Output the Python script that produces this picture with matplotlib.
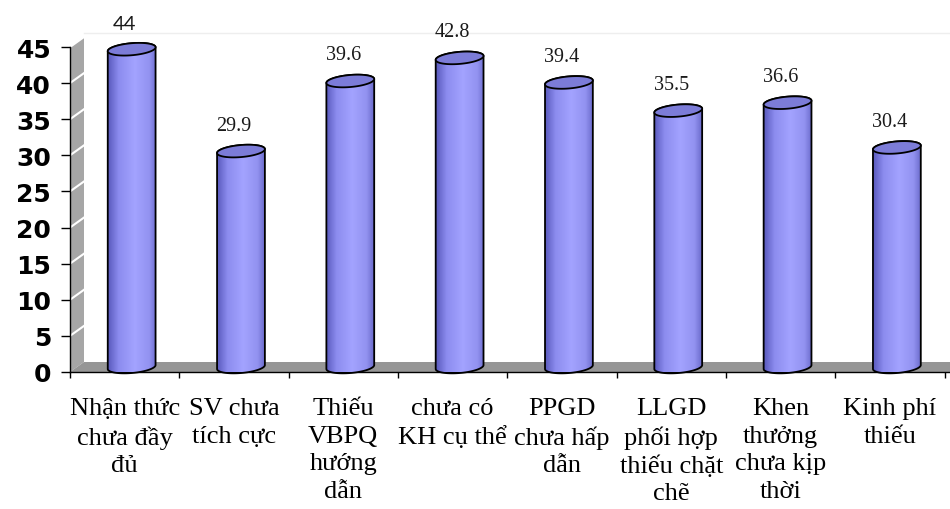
import matplotlib
matplotlib.use("Agg")
import matplotlib.pyplot as plt
import numpy as np
from matplotlib.patches import Polygon
from matplotlib.colors import LinearSegmentedColormap

# data
categories = ["Nhận thức\nchưa đầy\nđủ", "SV chưa\ntích cực", "Thiếu\nVBPQ\nhướng\ndẫn",
              "chưa có\nKH cụ thể", "PPGD\nchưa hấp\ndẫn", "LLGD\nphối hợp\nthiếu chặt\nchẽ",
              "Khen\nthưởng\nchưa kịp\nthời", "Kinh phí\nthiếu"]
values = [44, 29.9, 39.6, 42.8, 39.4, 35.5, 36.6, 30.4]
yticks = list(range(0, 50, 5))

W, H = 950, 510
fig = plt.figure(figsize=(W / 100, H / 100), dpi=100)
ax = fig.add_axes([70 / W, 137 / H, 880 / W, 363 / H])

XMAX = 8.05
sx = 880 / XMAX          # px per category
sy = 325 / 45            # px per unit
YMAX = 363 / sy
ax.set_xlim(0, XMAX)
ax.set_ylim(0, YMAX)

# 3d depth offset
DX = 14 / sx
DY = 10 / sy

# side wall + floor
ax.add_patch(Polygon([(0, 0), (0, 45), (DX, 45 + DY), (DX, DY)],
                     fc="#a6a6a6", ec="none", zorder=1))
ax.add_patch(Polygon([(0, 0), (XMAX, 0), (XMAX + DX, DY), (DX, DY)],
                     fc="#969696", ec="none", zorder=1, clip_on=False))
for v in yticks[1:]:
    ax.plot([0, DX], [v, v + DY], color="white", lw=1.5, zorder=1.5)
ax.plot([DX, XMAX + DX], [45 + DY + 0.6, 45 + DY + 0.6], color="#eeeeee", lw=1,
        zorder=0.5, clip_on=False)

# cylinders
cmap = LinearSegmentedColormap.from_list(
    "cyl", [(0, "#5a5abd"), (0.22, "#8c8cef"), (0.55, "#a3a3ff"),
            (0.85, "#9292f0"), (1, "#6b6bcc")])
grad = np.linspace(0, 1, 200).reshape(1, -1)
a, b, th = 24.0, 6.0, np.radians(5)


def ellipse_pts(cx, cy, t):
    px = a * np.cos(t) * np.cos(th) - b * np.sin(t) * np.sin(th)
    py = a * np.cos(t) * np.sin(th) + b * np.sin(t) * np.cos(th)
    return np.column_stack([cx + px / sx, cy + py / sy])


for i, v in enumerate(values):
    cx = i + 0.5 + DX / 2
    yb = DY / 2
    yt = v + DY / 2
    lower = ellipse_pts(cx, yb, np.linspace(np.pi, 2 * np.pi, 60))
    upper = ellipse_pts(cx, yt, np.linspace(0, np.pi, 60))
    body = np.vstack([lower, upper])
    clip = Polygon(body, transform=ax.transData)
    im = ax.imshow(grad, cmap=cmap, aspect="auto", zorder=3,
                   extent=[cx - a / sx, cx + a / sx, yb - b / sy - 0.5, yt + b / sy + 0.5])
    im.set_clip_path(clip)
    ax.add_patch(Polygon(body, fc="none", ec="black", lw=1.3, zorder=4, clip_on=False))
    top = ellipse_pts(cx, yt, np.linspace(0, 2 * np.pi, 120))
    ax.add_patch(Polygon(top, fc="#7c7cd8", ec="black", lw=1.3, zorder=5))

    fam = "Lato" if i == 0 else "Liberation Serif"
    ax.text(i + 0.5, v + 4.3, f"{v:g}", ha="center", va="center", fontsize=14.5,
            family=fam, color="#1a1a1a", clip_on=False, zorder=6)

ax.set_aspect("auto")
ax.set_xlim(0, XMAX)
ax.set_ylim(0, YMAX)

for s in ("top", "right"):
    ax.spines[s].set_visible(False)
ax.spines["left"].set_bounds(0, 45)
ax.spines["left"].set_linewidth(1)
ax.spines["bottom"].set_linewidth(1)

ax.set_yticks(yticks)
ax.set_yticklabels([str(t) for t in yticks], fontsize=18, fontweight="bold",
                   family="DejaVu Sans")
ax.tick_params(axis="y", direction="out", length=6.5, width=1, pad=7)

ax.set_xticks(np.arange(0, 9))
ax.set_xticklabels([])
ax.tick_params(axis="x", which="major", direction="out", length=4.5, width=1)
ax.set_xticks(np.arange(len(categories)) + 0.5, minor=True)
ax.set_xticklabels(categories, minor=True, fontsize=19, family="Liberation Serif",
                   linespacing=1.33)
ax.tick_params(axis="x", which="minor", length=0, pad=18)

fig.savefig("out.png", dpi=100)
